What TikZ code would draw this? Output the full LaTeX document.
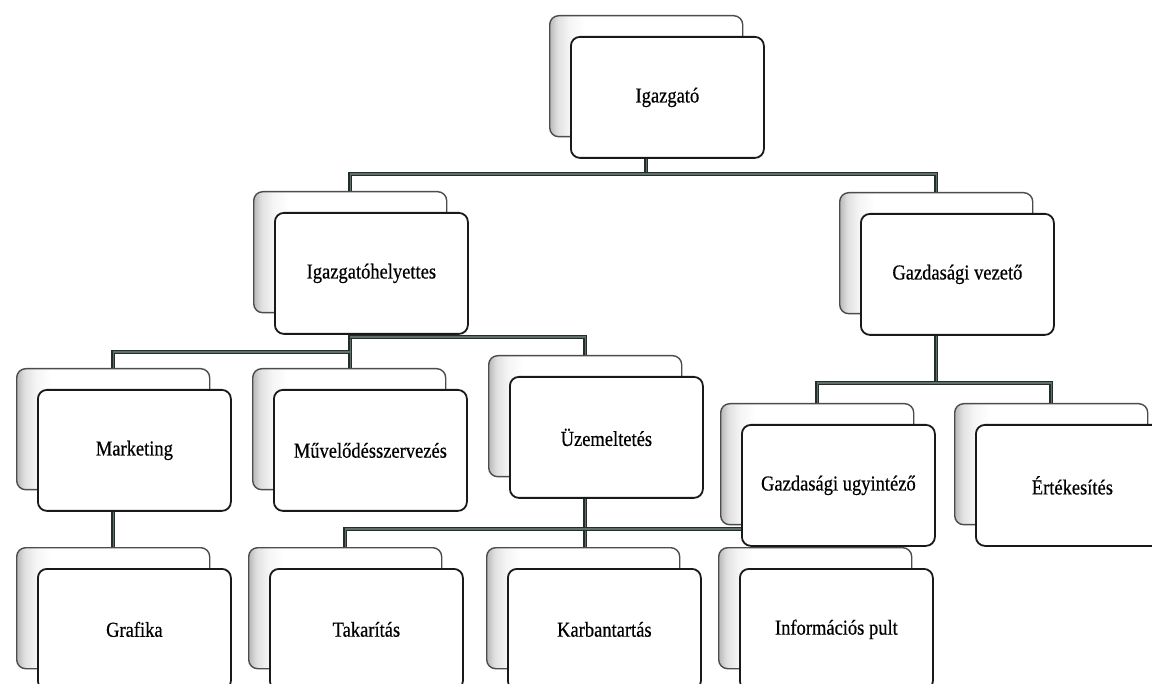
\documentclass[tikz,border=0pt]{standalone}
\usepackage{fontspec}
\setmainfont{Liberation Serif}
\newfontfamily\boxfont[FakeBold=0.5]{Liberation Serif}
\usetikzlibrary{calc}
\pgfdeclarelayer{bg}
\pgfsetlayers{bg,main}
\pgfdeclarehorizontalshading{backshade}{100bp}{color(0bp)=(black!28); color(25bp)=(black!28); color(27bp)=(black!12); color(30bp)=(black!4); color(34bp)=(white); color(100bp)=(white)}
\definecolor{connout}{RGB}{35,45,42}
\definecolor{connin}{RGB}{95,112,106}
\tikzset{
  backbox/.style={draw=black!70, line width=1.4pt, rounded corners=9pt, shading=backshade,
    minimum width=193pt, minimum height=121pt, inner sep=0pt, anchor=north west},
  frontbox/.style={draw=black!90, line width=1.8pt, rounded corners=9pt, fill=white,
    minimum width=193pt, minimum height=121pt, inner sep=0pt, anchor=north west,
    font=\boxfont\fontsize{18.5}{20}\selectfont},
  conn/.style={draw=connout, line width=1.5pt, double=connin, double distance=1.1pt, line join=miter},
}
\newcommand{\orgbox}[4]{%
  \node[backbox] (#1-b) at (#2,#3) {};
  \node[frontbox] (#1) at ($(#1-b.north west)+(21,21)$) {\scalebox{1}[1.15]{#4}};
}
\begin{document}
\begin{tikzpicture}[x=1pt,y=-1pt]
\useasboundingbox (0,0) rectangle (1152,684);
\clip (0,0) rectangle (1152,684);
\begin{pgfonlayer}{bg}
\fill[white] (0,0) rectangle (1152,684);
\end{pgfonlayer}
% bar levels
\coordinate (bar1) at (0,174);
\coordinate (bar2a) at (0,352);
\coordinate (bar2b) at (0,337);
\coordinate (bar4) at (0,529);
\coordinate (bar5) at (0,383);
% nodes
\orgbox{ig}{549}{15}{Igazgató}
\orgbox{ih}{253}{191}{Igazgatóhelyettes}
\orgbox{gv}{839}{192}{Gazdasági vezető}
\orgbox{mk}{16}{368}{Marketing}
\orgbox{mv}{252}{368}{Művelődésszervezés}
\orgbox{uz}{488}{355}{Üzemeltetés}
\orgbox{gu}{720}{403}{Gazdasági ugyintéző}
\orgbox{er}{954}{403}{Értékesítés}
\orgbox{gr}{16}{547}{Grafika}
\orgbox{ta}{248}{547}{Takarítás}
\orgbox{ka}{486}{547}{Karbantartás}
\orgbox{ip}{718}{547}{Információs pult}
% connectors (under the boxes)
\begin{pgfonlayer}{bg}
\draw[conn] (ig-b |- ig.south) -- (ig-b |- bar1);
\draw[conn] (ih-b.north) -- (ih-b |- bar1) -- (gv-b |- bar1) -- (gv-b.north);
\draw[conn] (ih-b |- ih.south) -- (ih-b |- mv-b.north);
\draw[conn] (ih-b |- bar2a) -- (mk-b |- bar2a) -- (mk-b.north);
\draw[conn] (ih-b |- bar2b) -- (uz-b |- bar2b) -- (uz-b.north);
\draw[conn] (mk-b |- mk.south) -- (gr-b.north);
\draw[conn] (uz-b |- uz.south) -- (uz-b |- ka-b.north);
\draw[conn] (ta-b.north) -- (ta-b |- bar4) -- (ip-b |- bar4) -- (ip-b.north);
\draw[conn] (gv-b |- gv.south) -- (gv-b |- bar5);
\draw[conn] (gu-b.north) -- (gu-b |- bar5) -- (er-b |- bar5) -- (er-b.north);
\end{pgfonlayer}
\end{tikzpicture}
\end{document}
